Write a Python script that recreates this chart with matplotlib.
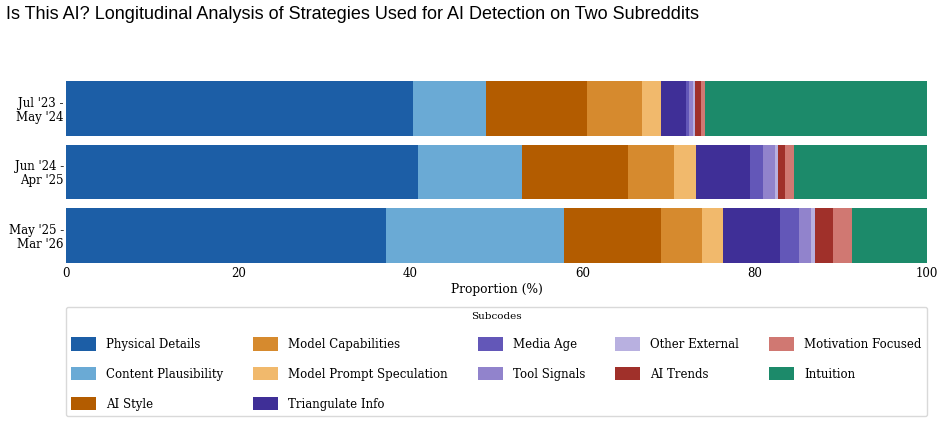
import matplotlib.pyplot as plt
import numpy as np

periods = ["Jul '23 -\nMay '24", "Jun '24 -\nApr '25", "May '25 -\nMar '26"]
subcodes = ["Physical Details", "Content Plausibility", "AI Style",
            "Model Capabilities", "Model Prompt Speculation", "Triangulate Info",
            "Media Age", "Tool Signals", "Other External", "AI Trends",
            "Motivation Focused", "Intuition"]
colors = ["#1c5ea6", "#6aaad5", "#b35c00", "#d68a2e", "#f1b96c", "#3f2f97",
          "#6357b8", "#9183cc", "#b8b0e0", "#a0302a", "#d07872", "#1c8a6a"]

# proportion (%) per subcode, one value per period
shares = {
    "Physical Details":         [40.3, 40.9, 37.2],
    "Content Plausibility":     [8.5, 12.1, 20.6],
    "AI Style":                 [11.7, 12.3, 11.3],
    "Model Capabilities":       [6.4, 5.3, 4.8],
    "Model Prompt Speculation": [2.2, 2.6, 2.4],
    "Triangulate Info":         [2.9, 6.2, 6.6],
    "Media Age":                [0.4, 1.6, 2.2],
    "Tool Signals":             [0.4, 1.3, 1.4],
    "Other External":           [0.3, 0.4, 0.5],
    "AI Trends":                [0.7, 0.8, 2.1],
    "Motivation Focused":       [0.4, 1.1, 2.2],
    "Intuition":                [25.8, 15.4, 8.7],
}

serif = "DejaVu Serif"

fig = plt.figure(figsize=(9.44, 4.23), dpi=100)
ax = fig.add_axes([0.0699, 0.378, 0.912, 0.431])

y = np.arange(len(periods))
left = np.zeros(len(periods))
for name, col in zip(subcodes, colors):
    vals = np.array(shares[name])
    ax.barh(y, vals, left=left, height=0.86, color=col, label=name, linewidth=0)
    left += vals

ax.set_xlim(0, 100)
ax.set_ylim(2.43, -0.43)
ax.set_yticks(y)
ax.set_yticklabels(periods, family=serif, fontsize=8.5, linespacing=1.1)
ax.set_xticks([0, 20, 40, 60, 80, 100])
ax.set_xticklabels(["0", "20", "40", "60", "80", "100"], family=serif, fontsize=8.5)
ax.tick_params(axis="x", length=0, pad=3)
ax.tick_params(axis="y", length=0, pad=1.5)
ax.set_xlabel("Proportion (%)", family=serif, fontsize=8.8, labelpad=2)
for s in ax.spines.values():
    s.set_visible(False)

fig.text(0.006, 0.965, "Is This AI? Longitudinal Analysis of Strategies Used for AI Detection on Two Subreddits",
         family="Liberation Sans", fontsize=13, ha="left", va="center")

leg = ax.legend(loc="upper center", bbox_to_anchor=(0, -0.239, 1, 0), ncol=5,
                title="Subcodes", prop={"family": serif, "size": 8.5},
                frameon=True, mode="expand", borderaxespad=0,
                handlelength=2.1, handleheight=1.35, handletextpad=0.85,
                columnspacing=2.0, labelspacing=1.38, borderpad=0.45)
leg.get_title().set_fontfamily(serif)
leg.get_title().set_fontsize(7.5)
leg.get_frame().set_edgecolor("#d0d0d0")

fig.savefig("out.png", dpi=100)
